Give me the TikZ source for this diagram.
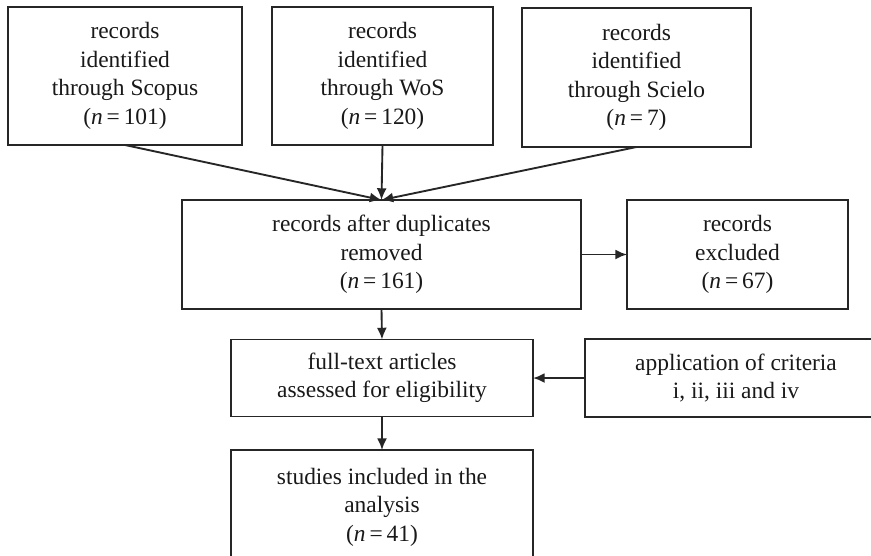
\documentclass[tikz,border=0pt]{standalone}
\usepackage{fontspec}
\setmainfont{Liberation Serif}
\usetikzlibrary{
	positioning,       %定位
	arrows.meta        %箭头
}
\newcommand{\flowfont}{\fontsize{20}{24.3}\selectfont}
\tikzstyle{flowbox}=[rectangle,
draw=black!85,
line width=1.6pt,
align=center,
inner sep=0pt,
outer sep=0pt,
text=black!90,
font=\flowfont]
\tikzset{
	every picture/.style={
		x=0.03cm,y=-0.03cm
	},
	flowline/.style={-{Latex[length=10pt,width=8.5pt]},draw=black!85,line width=1.6pt}
}

\begin{document}
\begin{tikzpicture}
\useasboundingbox (0,0) rectangle (871,555);
\fill[white] (0,0) rectangle (871,555);
%第一行:三个数据库
\node[flowbox,minimum width=7.02cm,minimum height=4.14cm] (scopus) at (125,76)
{records\\identified\\through Scopus\\(\textit{n}\,=\,101)};
\node[flowbox,minimum width=6.63cm,minimum height=4.14cm] (wos) at (382.5,76)
{records\\identified\\through WoS\\(\textit{n}\,=\,120)};
\node[flowbox,minimum width=6.87cm,minimum height=4.17cm] (scielo) at (636.5,77.5)
{records\\identified\\through Scielo\\(\textit{n}\,=\,7)};
%去重
\node[flowbox,minimum width=11.97cm,minimum height=3.27cm] (dedup) at (381.5,254.5)
{records after duplicates\\removed\\(\textit{n}\,=\,161)};
\node[flowbox,minimum width=6.63cm,minimum height=3.27cm] (excluded) at (737.5,254.5)
{records\\excluded\\(\textit{n}\,=\,67)};
%全文评估
\node[flowbox,minimum width=9.06cm,minimum height=2.31cm] (fulltext) at (382,378)
{full-text articles\\assessed for eligibility};
\node[flowbox,minimum width=9.06cm,minimum height=2.34cm] (criteria) at (736,378)
{application of criteria\\i, ii, iii and iv};
%最终纳入
\node[flowbox,minimum width=9.06cm,minimum height=3.42cm] (included) at (382,507)
{studies included in the\\analysis\\(\textit{n}\,=\,41)};
%连线
\draw[flowline] (scopus.south) -- (dedup.north);
\draw[flowline] (wos.south) -- (dedup.north);
\draw[flowline] (scielo.south) -- (dedup.north);
\draw[flowline] (dedup.east) -- (excluded.west);
\draw[flowline] (dedup.south) -- (fulltext.north);
\draw[flowline] (criteria.west) -- (fulltext.east);
\draw[flowline] (fulltext.south) -- (included.north);
\end{tikzpicture}
\end{document}
